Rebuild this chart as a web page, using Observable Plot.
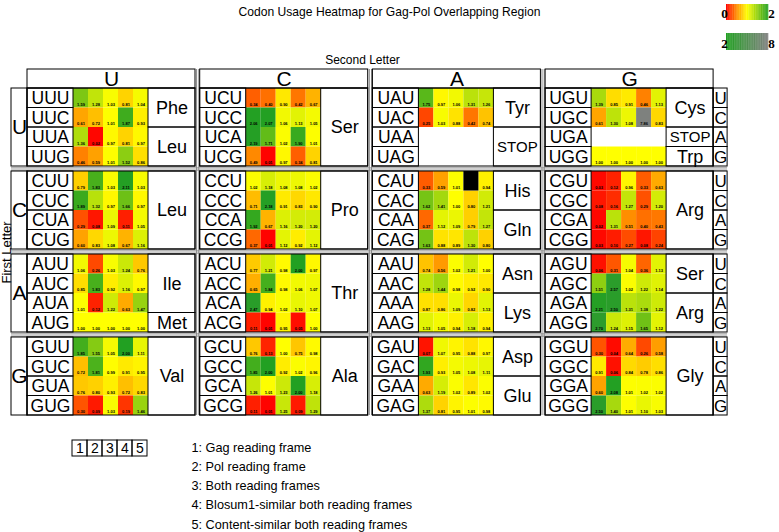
<!DOCTYPE html>
<html><head><meta charset="utf-8">
<script src="https://cdn.jsdelivr.net/npm/d3@7"></script>
<script src="https://cdn.jsdelivr.net/npm/@observablehq/plot@0.6"></script>
<style>body{margin:0;background:#fff;} svg{display:block;}</style>
</head><body><div id="chart"></div>
<script>
// ---------- data ----------
const bases = ["U", "C", "A", "G"];
const frames = ["1", "2", "3", "4", "5"];
const frameLabels = ["1: Gag reading frame", "2: Pol reading frame", "3: Both reading frames",
  "4: Blosum1-similar both reading frames", "5: Content-similar both reading frames"];
const title = "Codon Usage Heatmap for Gag-Pol Overlapping Region";

// rows: third letter U,C,A,G ; columns: frames 1..5 ; null row = stop codon (no data), null cell = missing
const UU = [[1.59,1.28,1.03,0.81,1.04],[0.61,0.72,1.01,1.87,0.93],[1.36,0.02,0.97,0.81,0.97],[0.46,0.59,1.01,1.52,0.86]];
const UC = [[0.34,0.40,0.90,0.42,0.67],[2.06,2.07,1.06,1.13,1.05],[2.19,1.71,1.02,1.90,1.01],[0.49,0.01,0.97,0.34,0.81]];
const UA = [[1.75,0.97,1.06,1.31,1.26],[0.25,1.03,0.88,0.42,0.74],null,null];
const UG = [[1.39,0.85,0.91,0.46,1.13],[0.61,1.30,1.08,7.86,0.83],null,[1.00,1.00,1.00,1.00,1.00]];
const CU = [[0.79,1.83,1.03,2.11,1.03],[1.89,1.32,0.97,1.66,0.97],[0.29,0.08,1.09,0.11,1.05],[0.60,0.83,1.08,0.67,1.16]];
const CC = [[1.02,1.18,1.08,1.08,1.02],[0.71,2.18,0.91,0.83,0.90],[1.92,0.67,1.16,1.20,1.20],[0.37,0.01,1.12,0.92,1.12]];
const CA = [[0.33,0.59,1.01,null,0.94],[1.62,1.41,1.00,0.80,1.21],[0.37,1.12,1.09,0.79,1.27],[1.63,0.88,0.89,1.30,0.80]];
const CG = [[0.03,0.12,0.96,0.33,0.63],[0.08,0.16,1.27,0.29,1.20],[0.02,1.31,0.51,0.40,0.43],[0.03,0.10,0.27,0.08,0.24]];
const AU = [[1.06,0.26,1.03,1.24,0.76],[0.85,1.83,0.92,1.16,0.97],[1.01,0.12,1.22,0.63,1.47],[1.00,1.00,1.00,1.00,1.00]];
const AC = [[0.77,1.21,0.98,2.00,0.97],[0.65,1.84,0.98,1.06,1.07],[2.47,0.94,1.02,1.10,1.07],[0.11,0.01,0.95,0.05,1.00]];
const AA = [[0.74,0.56,1.02,1.21,1.00],[1.28,1.44,0.98,0.92,0.90],[0.87,0.86,1.09,0.82,1.13],[1.13,1.05,0.94,1.18,0.94]];
const AG = [[0.06,0.31,1.04,0.36,1.13],[1.51,2.57,1.02,1.22,1.14],[2.21,2.50,1.31,1.38,1.22],[2.70,1.24,1.15,1.65,1.12]];
const GU = [[1.85,1.55,1.05,2.00,1.11],[0.72,1.81,0.99,0.91,0.95],[0.76,0.80,0.93,0.72,0.83],[0.30,0.09,1.03,0.19,1.46]];
const GC = [[0.76,0.13,1.00,0.75,0.98],[1.85,2.00,0.92,1.02,0.96],[1.26,1.01,1.23,2.00,1.18],[0.11,0.01,1.25,0.09,1.29]];
const GA = [[0.07,1.07,0.95,0.88,0.97],[1.93,0.93,1.05,1.08,1.11],[0.63,1.19,1.02,0.89,1.02],[1.37,0.81,0.95,1.01,0.98]];
const GG = [[0.30,0.04,0.64,0.26,0.58],[0.91,0.06,0.84,0.78,0.86],[0.60,2.08,1.01,1.02,1.02],[2.50,1.40,1.01,1.10,1.03]];

// amino acid groups per block: [label, first row, number of rows]
const aaU = [[["Phe",0,2],["Leu",2,2]], [["Ser",0,4]], [["Tyr",0,2],["STOP",2,2]], [["Cys",0,2],["STOP",2,1],["Trp",3,1]]];
const aaC = [[["Leu",0,4]], [["Pro",0,4]], [["His",0,2],["Gln",2,2]], [["Arg",0,4]]];
const aaA = [[["Ile",0,3],["Met",3,1]], [["Thr",0,4]], [["Asn",0,2],["Lys",2,2]], [["Ser",0,2],["Arg",2,2]]];
const aaG = [[["Val",0,4]], [["Ala",0,4]], [["Asp",0,2],["Glu",2,2]], [["Gly",0,4]]];

const blocks = {UU,UC,UA,UG,CU,CC,CA,CG,AU,AC,AA,AG,GU,GC,GA,GG};
const aminoGroups = [aaU, aaC, aaA, aaG];

// color scale stops
const colorDomain = [0, 0.5, 1, 2, 8];
const colorRange = ["#ff0000", "#ff8c00", "#ffff00", "#22a022", "#808080"];

// ---------- layout ----------
const colX0 = 27, colPitch = 172.7, codonW = 46, cellW = 15, aaW = 47;
const colW = codonW + 5 * cellW + aaW;
const rowY0 = 88, blockPitch = 83, rowH = 19.5, headerH = 19;
const colX = s => colX0 + s * colPitch;
const rowY = (f, t) => rowY0 + f * blockPitch + t * rowH;
const leftX = 11, rightX = colX(3) + colW, thirdW = 14;
const bottomY = rowY(3, 4);
const font = "Liberation Sans, Arial, sans-serif";

const cells = [], naCells = [], codonBoxes = [], aaBoxes = [], blockBoxes = [], thirdBoxes = [], firstBoxes = [];
bases.forEach((b1, f) => {
  firstBoxes.push({x1: leftX, x2: colX0, y1: rowY(f, 0), y2: rowY(f, 4), label: b1});
  bases.forEach((b2, s) => {
    const vals = blocks[b1 + b2];
    blockBoxes.push({x1: colX(s), x2: colX(s) + colW, y1: rowY(f, 0), y2: rowY(f, 4)});
    bases.forEach((b3, t) => {
      codonBoxes.push({x1: colX(s), x2: colX(s) + codonW, y1: rowY(f, t), y2: rowY(f, t + 1), label: b1 + b2 + b3});
      const row = vals[t];
      if (row) row.forEach((v, k) => {
        const c = {x1: colX(s) + codonW + k * cellW, x2: colX(s) + codonW + (k + 1) * cellW, y1: rowY(f, t), y2: rowY(f, t + 1), v};
        (v == null ? naCells : cells).push(c);
      });
    });
    aminoGroups[f][s].forEach(([label, start, n]) => {
      const x1 = colX(s) + codonW + 5 * cellW;
      aaBoxes.push({x1, x2: x1 + aaW, y1: rowY(f, start), y2: rowY(f, start + n), label});
    });
  });
  bases.forEach((b3, t) => thirdBoxes.push({x1: rightX, x2: rightX + thirdW, y1: rowY(f, t), y2: rowY(f, t + 1), label: b3}));
});
const headers = bases.map((b, s) => ({x1: colX(s), x2: colX(s) + colW, y1: rowY0 - headerH, y2: rowY0, label: b}));
const vSeps = [1, 2, 3].flatMap(s => [colX(s) - 3.6, colX(s) - 1.4].map(x => ({x, y1: rowY0 - headerH, y2: bottomY})));
const hSeps = [1, 2, 3].flatMap(f => [rowY(f, 0) - 3.6, rowY(f, 0) - 1.4].map(y => ({y, x1: leftX, x2: rightX + thirdW})));

// gradient legends built from the color scale domain
const grad1 = d3.range(0, 60).map(i => ({v: 2 * (i + 0.5) / 60, x1: 726 + i * 42 / 60, x2: 726 + (i + 1) * 42 / 60 + 0.3, y1: 4, y2: 20}));
const grad2 = d3.range(0, 60).map(i => ({v: 2 + 6 * (i + 0.5) / 60, x1: 726 + i * 42 / 60, x2: 726 + (i + 1) * 42 / 60 + 0.3, y1: 33, y2: 50}));
const gradLabels = [
  {x: 724, y: 13, t: "0", a: "end"}, {x: 771, y: 13, t: "2", a: "start"},
  {x: 724, y: 43, t: "2", a: "end"}, {x: 771, y: 43, t: "8", a: "start"}
];
const frameBoxes = frames.map((fr, i) => ({x1: 72 + i * 15, x2: 87 + i * 15, y1: 440, y2: 456, label: fr}));
const frameTexts = frameLabels.map((t, i) => ({x: 191, y: 447 + i * 19.3, t}));

const mid = (a, b) => d => (d[a] + d[b]) / 2;

const chart = Plot.plot({
  width: 779, height: 532, margin: 0,
  x: {type: "identity", axis: null}, y: {type: "identity", axis: null},
  color: {type: "linear", domain: colorDomain, range: colorRange, interpolate: "rgb"},
  marks: [
    Plot.text([title], {x: 389, y: 12, text: d => d, fontSize: 12.1, fontFamily: font, fill: "black"}),
    Plot.rect(grad1, {x1: "x1", x2: "x2", y1: "y1", y2: "y2", fill: "v"}),
    Plot.rect(grad2, {x1: "x1", x2: "x2", y1: "y1", y2: "y2", fill: "v"}),
    Plot.text(gradLabels, {x: "x", y: "y", text: "t", textAnchor: "a", fontSize: 13, fontWeight: "bold", fontFamily: "Liberation Serif, Times New Roman, serif", fill: "black"}),
    Plot.text(["Second Letter"], {x: 362, y: 60, text: d => d, fontSize: 12, fontFamily: font, fill: "black"}),
    Plot.text(["First Letter"], {x: 6, y: 252, text: d => d, rotate: -90, fontSize: 13, fontFamily: font, fill: "black"}),
    // separators
    Plot.ruleX(vSeps, {x: "x", y1: "y1", y2: "y2", stroke: "#888", strokeWidth: 1}),
    Plot.ruleY(hSeps, {y: "y", x1: "x1", x2: "x2", stroke: "#888", strokeWidth: 1}),
    // heat cells
    Plot.rect(cells, {x1: "x1", x2: "x2", y1: "y1", y2: "y2", fill: "v"}),
    Plot.rect(naCells, {x1: "x1", x2: "x2", y1: "y1", y2: "y2", fill: "black"}),
    Plot.text(cells, {x: mid("x1", "x2"), y: d => d.y2 - 3.5, text: d => d.v.toFixed(2), fontSize: 4, fontWeight: "bold", fontFamily: font, fill: "black"}),
    // boxes
    Plot.rect(headers, {x1: "x1", x2: "x2", y1: "y1", y2: "y2", fill: "none", stroke: "black"}),
    Plot.text(headers, {x: mid("x1", "x2"), y: mid("y1", "y2"), text: "label", fontSize: 21, fontFamily: font, fill: "black"}),
    Plot.rect(blockBoxes, {x1: "x1", x2: "x2", y1: "y1", y2: "y2", fill: "none", stroke: "black"}),
    Plot.rect(firstBoxes, {x1: "x1", x2: "x2", y1: "y1", y2: "y2", fill: "none", stroke: "black"}),
    Plot.text(firstBoxes, {x: mid("x1", "x2"), y: mid("y1", "y2"), text: "label", fontSize: 21, fontFamily: font, fill: "black"}),
    Plot.rect(codonBoxes, {x1: "x1", x2: "x2", y1: "y1", y2: "y2", fill: "none", stroke: "black"}),
    Plot.text(codonBoxes, {x: mid("x1", "x2"), y: d => (d.y1 + d.y2) / 2 + 0.5, text: "label", fontSize: 17.5, fontFamily: font, fill: "black"}),
    Plot.rect(aaBoxes, {x1: "x1", x2: "x2", y1: "y1", y2: "y2", fill: "none", stroke: "black"}),
    Plot.text(aaBoxes, {x: mid("x1", "x2"), y: mid("y1", "y2"), text: "label", fontSize: d => d.label === "STOP" ? 15 : 18, fontFamily: font, fill: "black"}),
    Plot.rect(thirdBoxes, {x1: "x1", x2: "x2", y1: "y1", y2: "y2", fill: "none", stroke: "black"}),
    Plot.text(thirdBoxes, {x: mid("x1", "x2"), y: d => (d.y1 + d.y2) / 2 + 0.5, text: "label", fontSize: 17, fontFamily: font, fill: "black"}),
    // frame legend
    Plot.rect(frameBoxes, {x1: "x1", x2: "x2", y1: "y1", y2: "y2", fill: "none", stroke: "black"}),
    Plot.text(frameBoxes, {x: mid("x1", "x2"), y: d => (d.y1 + d.y2) / 2 + 0.5, text: "label", fontSize: 14, fontFamily: font, fill: "black"}),
    Plot.text(frameTexts, {x: "x", y: "y", text: "t", textAnchor: "start", fontSize: 12.7, fontFamily: font, fill: "black"})
  ]
});
document.getElementById("chart").appendChild(chart);
</script>
</body></html>
